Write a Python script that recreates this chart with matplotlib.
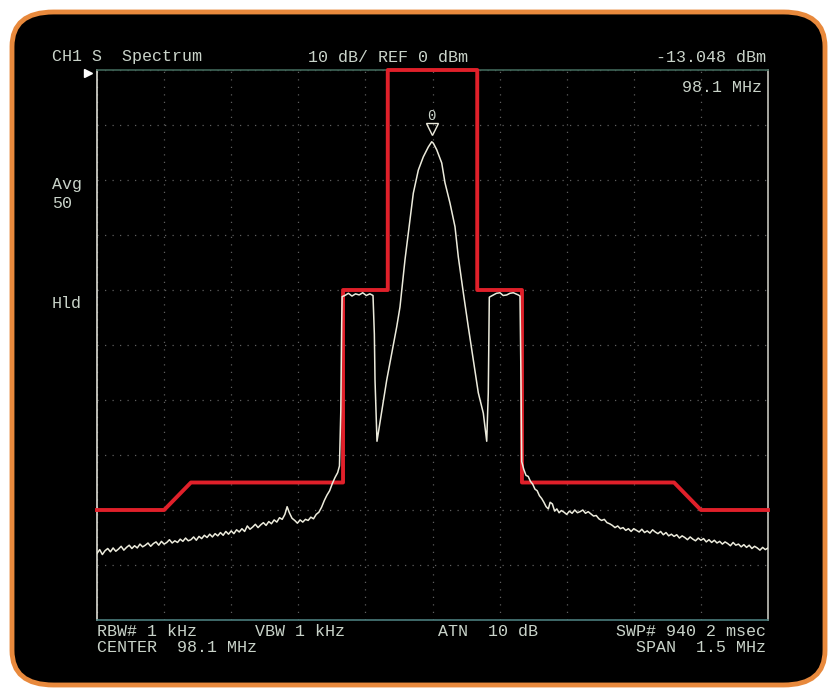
import numpy as np
import matplotlib.pyplot as plt
from matplotlib.patches import FancyBboxPatch

# spectrum analyzer screen: center 98.1 MHz, span 1.5 MHz, 10 dB/div, ref 0 dBm
center_mhz = 98.1
span_mhz = 1.5
ref_dbm = 0
db_per_div = 10

# limit mask (red), offset from center in kHz / level in dBm
mask_khz = [-750, -600, -540, -200, -200, -100, -100, 100, 100, 200, 200, 540, 600, 750]
mask_dbm = [-80, -80, -75, -75, -40, -40, 0, 0, -40, -40, -75, -75, -80, -80]

left_noise = [(-750, -87.9), (-744, -87.2), (-738, -88.1), (-732, -87.4), (-726, -87.0),
              (-720, -87.6), (-714, -86.9), (-708, -87.5), (-702, -87.1), (-696, -86.6),
              (-690, -87.3), (-684, -86.8), (-678, -86.4), (-672, -87.0), (-666, -86.5),
              (-660, -86.9), (-654, -86.2), (-648, -86.7), (-642, -86.4), (-636, -86.0),
              (-630, -86.6), (-624, -86.1), (-618, -85.8), (-612, -86.4), (-606, -85.7),
              (-600, -86.2), (-594, -85.9), (-588, -85.4), (-582, -86.0), (-576, -85.6),
              (-570, -85.9), (-564, -85.3), (-558, -85.7), (-552, -85.1), (-546, -85.6),
              (-540, -85.4), (-534, -84.9), (-528, -85.5), (-522, -84.8), (-516, -85.2),
              (-510, -84.6), (-504, -85.0), (-498, -84.4), (-492, -84.9), (-486, -84.3),
              (-480, -84.7), (-474, -84.1), (-468, -84.6), (-462, -83.9), (-456, -84.4),
              (-450, -83.8), (-444, -84.3), (-438, -83.6), (-432, -84.0), (-426, -83.4),
              (-420, -83.9), (-414, -82.9), (-408, -83.5), (-402, -83.1), (-396, -82.6),
              (-390, -83.2), (-384, -82.7), (-378, -82.3), (-372, -82.8), (-366, -82.1),
              (-360, -82.5), (-354, -81.8), (-348, -82.2), (-342, -81.4), (-336, -81.7),
              (-330, -80.8), (-325, -79.4), (-320, -80.5), (-314, -81.5), (-308, -81.9),
              (-302, -82.4), (-296, -81.8), (-290, -82.2), (-284, -81.7), (-278, -81.9),
              (-272, -81.3), (-266, -81.6), (-260, -80.8), (-254, -80.4), (-248, -79.5),
              (-242, -78.3), (-236, -77.3), (-230, -76.5), (-224, -75.2), (-218, -74.1),
              (-212, -73.2), (-208, -72.0), (-205, -62.0), (-203, -46.0)]

left_step = [(-202, -41.2), (-196, -41.0), (-188, -40.6), (-180, -41.1), (-172, -40.7),
             (-164, -40.9), (-156, -40.5), (-148, -41.0), (-140, -40.7), (-133, -41.0),
             (-130, -48.0), (-128.5, -56.4), (-124.1, -67.5)]

main_lobe = [(-102.4, -56.4), (-80.0, -46.7), (-72.7, -43.1), (-61.5, -34.5), (-50.3, -27.3),
             (-42.9, -22.4), (-31.7, -18.2), (-20.6, -15.8), (-9.4, -14.0), (-1.8, -13.05),
             (1.8, -13.3), (9.4, -14.5), (20.6, -16.9), (27.9, -20.5), (39.1, -24.2),
             (50.3, -28.5), (57.7, -34.0), (68.9, -40.5), (80.0, -46.7), (91.2, -52.7),
             (102.4, -58.7), (113.6, -62.4), (121.2, -67.5)]

right_step = [(124.7, -58.7), (127.0, -41.3), (135.9, -40.9), (143, -40.6), (150.9, -40.5),
              (158, -41.0), (165.9, -40.9), (173, -40.6), (180.6, -40.5), (191.8, -40.9),
              (195.6, -41.1), (197.8, -56.4)]

right_noise = [(199.4, -71.2), (204, -72.6), (209, -73.7), (214, -73.9), (219, -74.8),
               (224, -75.3), (229, -76.2), (234, -76.5), (239, -77.4), (244, -77.9),
               (249, -78.6), (254, -79.4), (259, -79.8), (263, -78.6), (268, -78.9),
               (273, -80.2), (278, -79.8), (283, -80.5), (288, -80.1), (294, -80.4),
               (300, -80.8), (306, -80.2), (312, -80.6), (318, -80.0), (324, -80.5),
               (330, -80.3), (336, -80.0), (342, -80.6), (348, -80.3), (354, -80.7),
               (360, -81.1), (366, -81.0), (372, -81.6), (378, -81.9), (384, -81.7),
               (390, -82.3), (396, -82.5), (402, -82.8), (408, -83.2), (414, -82.9),
               (420, -83.4), (426, -83.2), (432, -83.7), (438, -83.4), (444, -83.9),
               (450, -83.4), (456, -83.7), (462, -84.0), (468, -83.5), (474, -84.1),
               (480, -83.8), (486, -84.2), (492, -83.6), (498, -84.0), (504, -84.3),
               (510, -83.9), (516, -84.5), (522, -84.1), (528, -84.7), (534, -84.4),
               (540, -84.8), (546, -84.5), (552, -85.1), (558, -84.7), (564, -85.0),
               (570, -85.4), (576, -84.9), (582, -85.3), (588, -85.6), (594, -85.1),
               (600, -85.5), (606, -85.2), (612, -85.8), (618, -85.4), (624, -85.9),
               (630, -85.5), (636, -86.0), (642, -85.7), (648, -86.2), (654, -85.8),
               (660, -86.1), (666, -86.5), (672, -85.9), (678, -86.4), (684, -86.2),
               (690, -86.7), (696, -86.3), (702, -86.8), (708, -86.4), (714, -87.0),
               (720, -86.6), (726, -86.9), (732, -87.3), (738, -86.8), (744, -87.2),
               (750, -86.9)]

marker_khz = -1.8
marker_dbm = -13.048

txt_color = '#c9d3c9'
trace_color = '#ecebdc'
font = 'Liberation Mono'

fig = plt.figure(figsize=(8.3, 6.91), dpi=100)
fig.patch.set_facecolor('white')

# rounded black screen with orange bezel
W, H = 830, 691
screen = FancyBboxPatch((12 / W, 6 / H), 813 / W, 673 / H,
                        boxstyle='round,pad=0,rounding_size=0.05',
                        transform=fig.transFigure, facecolor='black',
                        edgecolor='#e8893c', linewidth=3.5, zorder=-10)
fig.patches.append(screen)

ax = fig.add_axes([97 / W, 71 / H, 671 / W, 550 / H])
ax.set_facecolor('black')
ax.set_zorder(1)

trace = left_noise + left_step + main_lobe + right_step + right_noise
trace_khz, trace_dbm = zip(*trace)
freq = [center_mhz + k / 1000 for k in trace_khz]
mask_freq = [center_mhz + k / 1000 for k in mask_khz]

ax.plot(mask_freq, mask_dbm, color='#e0202a', linewidth=2.8, clip_on=False, zorder=3)
ax.plot(freq, trace_dbm, color=trace_color, linewidth=1.1, zorder=4)

# peak marker
mx = center_mhz + marker_khz / 1000
ax.plot([mx], [marker_dbm + 2.3], marker='v', markersize=9, markerfacecolor='none',
        markeredgecolor=trace_color, markeredgewidth=1.0, zorder=5)
ax.text(mx, marker_dbm + 4.6, '0', color=txt_color, fontsize=10, family=font,
        ha='center', va='center', zorder=5)

lo = center_mhz - span_mhz / 2
hi = center_mhz + span_mhz / 2
ax.set_xlim(lo, hi)
ax.set_ylim(ref_dbm - 10 * db_per_div, ref_dbm)
ax.set_xticks(np.linspace(lo, hi, 11))
ax.set_yticks(np.arange(-100, 1, db_per_div))
ax.tick_params(length=0, labelleft=False, labelbottom=False)
ax.grid(True, color='#5e5e5e', linestyle=(0, (1, 5)), linewidth=0.9)

ax.spines['left'].set_color('#dcdcd4')
ax.spines['right'].set_color('#c4c4bc')
ax.spines['top'].set_color('#3f6658')
ax.spines['bottom'].set_color('#4a7c7c')
for s in ax.spines.values():
    s.set_linewidth(1.2)

# reference level pointer
ax.plot([-0.013], [0.995], marker='>', markersize=6, color='white',
        transform=ax.transAxes, clip_on=False)


def put(x, y, s, ha='left'):
    fig.text(x / W, 1 - y / H, s, color=txt_color, fontsize=12, family=font,
             ha=ha, va='center')


put(52, 57, 'CH1 S  Spectrum')
put(308, 57, '10 dB/ REF 0 dBm')
put(766, 57, '-13.048 dBm', ha='right')
put(762, 88, '98.1 MHz', ha='right')
put(52, 185, 'Avg')
put(52, 203, '50')
put(52, 303, 'Hld')
put(97, 631, 'RBW# 1 kHz')
put(255, 631, 'VBW 1 kHz')
put(438, 631, 'ATN  10 dB')
put(766, 631, 'SWP# 940 2 msec', ha='right')
put(97, 648, 'CENTER  98.1 MHz')
put(766, 648, 'SPAN  1.5 MHz', ha='right')

plt.savefig('out.png', dpi=100, facecolor='white')
